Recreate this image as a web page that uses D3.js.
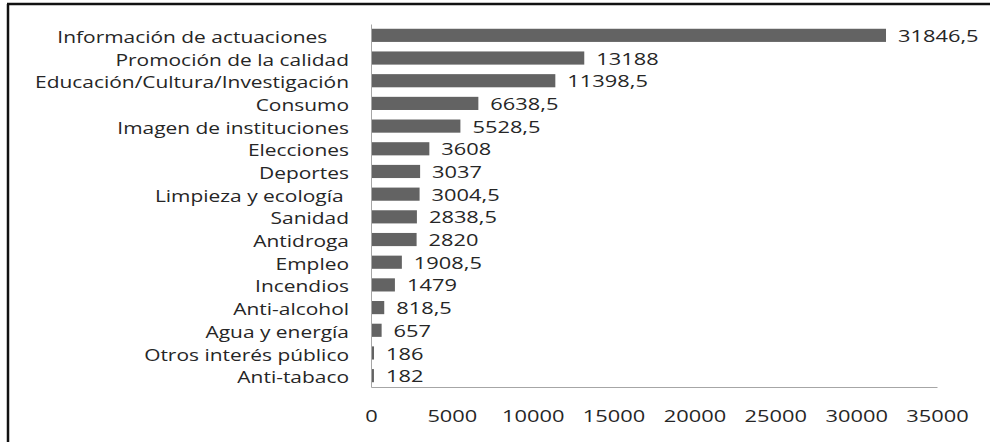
<!DOCTYPE html>
<html>
<head>
<meta charset="utf-8">
<script src="https://cdn.jsdelivr.net/npm/d3@7"></script>
<style>
  html, body { margin: 0; padding: 0; background: #fff; }
  svg { display: block; }
  text { font-family: "Open Sans", "DejaVu Sans", sans-serif; fill: #262626; white-space: pre; }
</style>
</head>
<body>
<svg id="chart" width="990" height="442"></svg>
<script>
// Campaign categories (top to bottom) and their values
const categories = [
  "Información de actuaciones    ",
  "Promoción de la calidad",
  "Educación/Cultura/Investigación",
  "Consumo",
  "Imagen de instituciones",
  "Elecciones",
  "Deportes",
  "Limpieza y ecología ",
  "Sanidad",
  "Antidroga",
  "Empleo",
  "Incendios",
  "Anti-alcohol",
  "Agua y energía",
  "Otros interés público",
  "Anti-tabaco"
];
const values = [31846.5, 13188, 11398.5, 6638.5, 5528.5, 3608, 3037, 3004.5, 2838.5, 2820, 1908.5, 1479, 818.5, 657, 186, 182];
const xTicks = [0, 5000, 10000, 15000, 20000, 25000, 30000, 35000];

const svg = d3.select("#chart");
const W = 990, H = 442;
const stretchText = 1.35; // wide lettering for category names
const stretchNum = 1.41;  // wide lettering for numbers

// frame (top and left edges)
svg.append("line").attr("x1", 7).attr("x2", W).attr("y1", 4).attr("y2", 4)
  .attr("stroke", "#111").attr("stroke-width", 2.5);
svg.append("line").attr("x1", 8).attr("x2", 8).attr("y1", 4).attr("y2", H)
  .attr("stroke", "#111").attr("stroke-width", 2.5);

const x = d3.scaleLinear().domain([0, 35000]).range([371, 937]);
const y = d3.scaleBand().domain(categories).range([24, 387]);

const esLocale = d3.formatLocale({ decimal: ",", thousands: ".", grouping: [3], currency: ["", " €"] });
const fmtVal = esLocale.format(".1~f");

// bars
const barH = y.bandwidth() * 0.58;
svg.append("g").selectAll("rect").data(values).join("rect")
  .attr("x", x(0))
  .attr("y", (d, i) => y(categories[i]) + (y.bandwidth() - barH) / 2)
  .attr("width", d => x(d) - x(0))
  .attr("height", barH)
  .attr("fill", "#636363");

// value labels
svg.append("g").selectAll("text").data(values).join("text")
  .attr("transform", (d, i) => `translate(${x(d) + 12},${y(categories[i]) + y.bandwidth() / 2 + 1}) scale(${stretchNum},1)`)
  .attr("dy", "0.36em")
  .attr("font-size", 15.5)
  .text(d => fmtVal(d));

// y axis
const yAxis = svg.append("g").attr("transform", `translate(${x(0)},0)`)
  .call(d3.axisLeft(y).tickSize(0).tickSizeOuter(0).tickPadding(0));
yAxis.select(".domain").attr("stroke", "#a6a6a6");
yAxis.selectAll(".tick text")
  .attr("x", 0).attr("dy", "0.36em")
  .attr("transform", `translate(-22,2) scale(${stretchText},1)`)
  .attr("font-size", 15.5)
  .attr("font-family", null)
  .attr("fill", "#262626");

// x axis
const xAxis = svg.append("g").attr("transform", `translate(0,${y.range()[1]})`)
  .call(d3.axisBottom(x).tickValues(xTicks).tickFormat(d3.format("d")).tickSize(0).tickSizeOuter(0).tickPadding(0));
xAxis.select(".domain").attr("stroke", "#a6a6a6");
xAxis.selectAll(".tick text")
  .attr("y", 0).attr("dy", "0.36em")
  .attr("transform", `translate(0,29) scale(${stretchNum},1)`)
  .attr("font-size", 15.5)
  .attr("font-family", null)
  .attr("fill", "#262626");
</script>
</body>
</html>
